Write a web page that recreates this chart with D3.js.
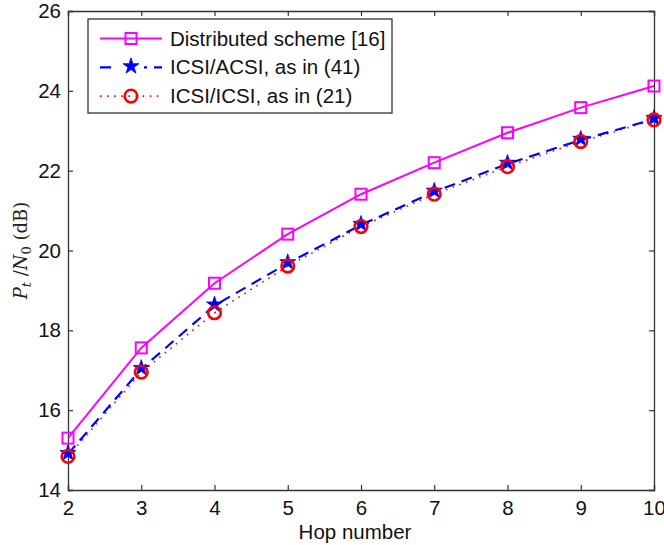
<!DOCTYPE html>
<html>
<head>
<meta charset="utf-8">
<script src="https://cdn.jsdelivr.net/npm/d3@7"></script>
<style>
  body { margin: 0; background: #fff; }
  svg { display: block; }
  text { font-family: 'Liberation Sans', Arial, sans-serif; }
</style>
</head>
<body>
<svg id="chart" width="664" height="545"></svg>
<script>
const hops = [2, 3, 4, 5, 6, 7, 8, 9, 10];
const distributed = [15.30, 17.56, 19.18, 20.41, 21.41, 22.20, 22.95, 23.58, 24.12];
const icsiAcsi = [14.90, 17.03, 18.62, 19.68, 20.64, 21.47, 22.17, 22.77, 23.29];
const icsiIcsi = [14.84, 16.95, 18.44, 19.61, 20.60, 21.41, 22.10, 22.73, 23.27];
const xTicks = [2, 3, 4, 5, 6, 7, 8, 9, 10];
const yTicks = [14, 16, 18, 20, 22, 24, 26];
const legendLabels = ['Distributed scheme [16]', 'ICSI/ACSI, as in (41)', 'ICSI/ICSI, as in (21)'];

const margin = { left: 68, top: 11, right: 10, bottom: 55 };
const svg = d3.select('#chart');
const W = 664, H = 545;
const x = d3.scaleLinear().domain([2, 10]).range([margin.left, W - margin.right]);
const y = d3.scaleLinear().domain([14, 26]).range([H - margin.bottom, margin.top]);
const axisColor = '#333';
const fontSize = '20.5px';

const series = [
  { name: legendLabels[0], values: distributed, color: '#ff00ff', dash: null, width: 2, marker: 'square' },
  { name: legendLabels[1], values: icsiAcsi, color: '#0000ff', dash: '11,7', width: 2.2, marker: 'star' },
  { name: legendLabels[2], values: icsiIcsi, color: '#ff0000', dash: '1.6,5.5', width: 1.6, marker: 'circle' }
];

// axes box, ticks point inward on all four sides
const tickLen = 5;
svg.append('g').attr('transform', `translate(0,${y(14)})`)
  .call(d3.axisBottom(x).tickValues(xTicks).tickSize(-tickLen).tickPadding(10).tickFormat(d3.format('d')));
svg.append('g').attr('transform', `translate(0,${y(26)})`)
  .call(d3.axisTop(x).tickValues(xTicks).tickSize(-tickLen).tickFormat(''));
svg.append('g').attr('transform', `translate(${x(2)},0)`)
  .call(d3.axisLeft(y).tickValues(yTicks).tickSize(-tickLen).tickPadding(7).tickFormat(d3.format('d')));
svg.append('g').attr('transform', `translate(${x(10)},0)`)
  .call(d3.axisRight(y).tickValues(yTicks).tickSize(-tickLen).tickFormat(''));

svg.selectAll('.domain').attr('stroke', axisColor).attr('stroke-width', 1.3);
svg.selectAll('.tick line').attr('stroke', axisColor).attr('stroke-width', 1.2);
svg.selectAll('.tick text').attr('fill', '#111').style('font-size', fontSize)
  .style('font-family', "'Liberation Sans', Arial, sans-serif");

const star = d3.symbol().type(d3.symbolStar).size(80);

function drawMarker(g, s, cx, cy) {
  if (s.marker === 'square') {
    g.append('rect').attr('x', cx - 5.5).attr('y', cy - 5.5).attr('width', 11).attr('height', 11)
      .attr('fill', 'none').attr('stroke', s.color).attr('stroke-width', 2);
  } else if (s.marker === 'star') {
    g.append('path').attr('d', star()).attr('transform', `translate(${cx},${cy - 1})`)
      .attr('fill', s.color).attr('stroke', s.color).attr('stroke-width', 0.8);
  } else {
    g.append('circle').attr('cx', cx).attr('cy', cy).attr('r', 6.3)
      .attr('fill', 'none').attr('stroke', s.color).attr('stroke-width', 2.6);
  }
}

const line = d3.line().x(d => x(d[0])).y(d => y(d[1]));

// lines: red under blue under pink
[2, 1, 0].forEach(i => {
  const s = series[i];
  svg.append('path').datum(hops.map((h, j) => [h, s.values[j]]))
    .attr('d', line).attr('fill', 'none').attr('stroke', s.color)
    .attr('stroke-width', s.width).attr('stroke-dasharray', s.dash);
});
// markers: stars, then circles over them, then squares
[1, 2, 0].forEach(i => {
  const s = series[i];
  const g = svg.append('g');
  hops.forEach((h, j) => drawMarker(g, s, x(h), y(s.values[j])));
});

// legend
const leg = svg.append('g');
leg.append('rect').attr('x', 88).attr('y', 19).attr('width', 304).attr('height', 94)
  .attr('fill', '#fff').attr('stroke', axisColor).attr('stroke-width', 1.3);
series.forEach((s, i) => {
  const cy = 38.5 + i * 28.8;
  leg.append('line').attr('x1', 100).attr('x2', 162).attr('y1', cy).attr('y2', cy)
    .attr('stroke', s.color).attr('stroke-width', s.width).attr('stroke-dasharray', s.dash);
  if (s.marker === 'star') {
    leg.append('rect').attr('x', 118).attr('y', cy - 9).attr('width', 26).attr('height', 18).attr('fill', '#fff');
  }
  drawMarker(leg, s, 131, cy);
  leg.append('text').attr('x', 170).attr('y', cy).attr('dy', '0.35em')
    .style('font-size', fontSize).attr('fill', '#111').text(s.name);
});

// axis titles
svg.append('text').attr('x', 355).attr('y', 539).attr('text-anchor', 'middle')
  .style('font-size', fontSize).attr('fill', '#111').text('Hop number');

const yl = svg.append('text').attr('transform', `translate(27,${y(20)}) rotate(-90)`)
  .attr('text-anchor', 'middle').attr('fill', '#222')
  .style('font-family', "'DejaVu Serif', 'Liberation Serif', serif").style('font-size', '18px');
yl.append('tspan').style('font-style', 'italic').text('P');
yl.append('tspan').style('font-style', 'italic').style('font-size', '13px').attr('dy', 4).text('t');
yl.append('tspan').attr('dy', -4).text(' /');
yl.append('tspan').style('font-style', 'italic').text('N');
yl.append('tspan').style('font-size', '13px').attr('dy', 4).text('0');
yl.append('tspan').attr('dy', -4).text(' (dB)');
</script>
</body>
</html>
